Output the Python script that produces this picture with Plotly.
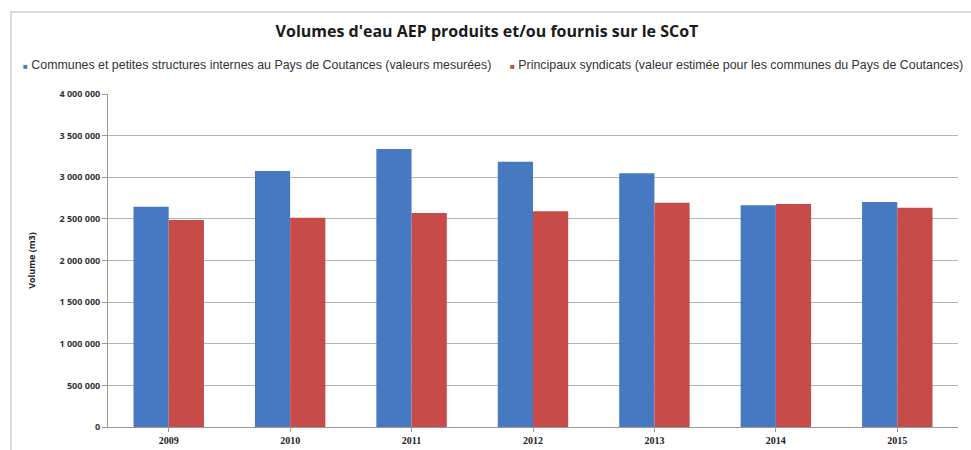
import plotly.graph_objects as go

years = ["2009", "2010", "2011", "2012", "2013", "2014", "2015"]
communes = [2645000, 3075000, 3340000, 3187000, 3047000, 2663000, 2703000]
syndicats = [2486000, 2514000, 2571000, 2591000, 2695000, 2679000, 2634000]
name_communes = "Communes et petites structures internes au Pays de Coutances (valeurs mesurées)"
name_syndicats = "Principaux syndicats (valeur estimée pour les communes du Pays de Coutances)"
ytick_vals = [0, 500000, 1000000, 1500000, 2000000, 2500000, 3000000, 3500000, 4000000]
ytick_text = ["0", "500 000", "1 000 000", "1 500 000", "2 000 000", "2 500 000",
              "3 000 000", "3 500 000", "4 000 000"]
color_communes = "#4679C1"
color_syndicats = "#C74B48"

W, H = 971, 450
L, R, T, B = 108, 13, 94, 23
pw, ph = W - L - R, H - T - B

def px(x):
    return (x - L) / pw

def py(y):
    return (H - B - y) / ph

fig = go.Figure()
fig.add_trace(go.Bar(x=years, y=communes, name=name_communes, marker=dict(color=color_communes, line_width=0)))
fig.add_trace(go.Bar(x=years, y=syndicats, name=name_syndicats, marker=dict(color=color_syndicats, line_width=0)))

legend_font = dict(family="Liberation Sans, Arial, sans-serif", size=12.4, color="#333")
fig.add_annotation(xref="paper", yref="paper", x=px(21), y=py(65), xanchor="left", yanchor="middle",
                   showarrow=False, font=legend_font,
                   text=f"<span style='color:{color_communes};font-size:8px'>■</span> {name_communes}")
fig.add_annotation(xref="paper", yref="paper", x=px(508), y=py(65), xanchor="left", yanchor="middle",
                   showarrow=False, font=legend_font,
                   text=f"<span style='color:{color_syndicats};font-size:8px'>■</span> {name_syndicats}")

fig.update_layout(
    width=W, height=H,
    margin=dict(l=L, r=R, t=T, b=B, autoexpand=False),
    paper_bgcolor="white", plot_bgcolor="white",
    barmode="group", bargap=0.42, bargroupgap=0,
    title=dict(text="<b>Volumes d'eau AEP produits et/ou fournis sur le SCoT</b>",
               x=px(487), xref="paper", xanchor="center", y=1 - 31 / H, yanchor="middle",
               font=dict(family="Open Sans, sans-serif", size=16, color="#1a1a1a")),
    showlegend=False,
    font=dict(family="Open Sans, sans-serif", color="#222"),
    shapes=[dict(type="rect", xref="paper", yref="paper",
                 x0=px(11), x1=px(980), y0=py(12), y1=py(470),
                 line=dict(color="#d0d0d0", width=1.5), fillcolor="rgba(0,0,0,0)", layer="below")],
)
fig.update_xaxes(automargin=False, showgrid=False, showline=True, linecolor="#999", linewidth=1,
                 ticks="outside", ticklen=4, tickcolor="#999",
                 tickfont=dict(family="Liberation Serif, serif", size=10, color="#222"),
                 tickprefix="<b>", ticksuffix="</b>")
fig.update_yaxes(automargin=False, range=[0, 4000000], tickvals=ytick_vals,
                 ticktext=["<b>" + t + "</b>" for t in ytick_text],
                 showgrid=True, gridcolor="#b5b5b5", gridwidth=1,
                 showline=True, linecolor="#999", linewidth=1,
                 ticks="outside", ticklen=5, tickcolor="#999",
                 tickfont=dict(family="Liberation Sans Narrow, Open Sans, sans-serif", size=9, color="#333"),
                 title=dict(text="<b>Volume (m3)</b>", standoff=22,
                            font=dict(family="Open Sans, sans-serif", size=9, color="#222")))

fig.write_html("out.html")
